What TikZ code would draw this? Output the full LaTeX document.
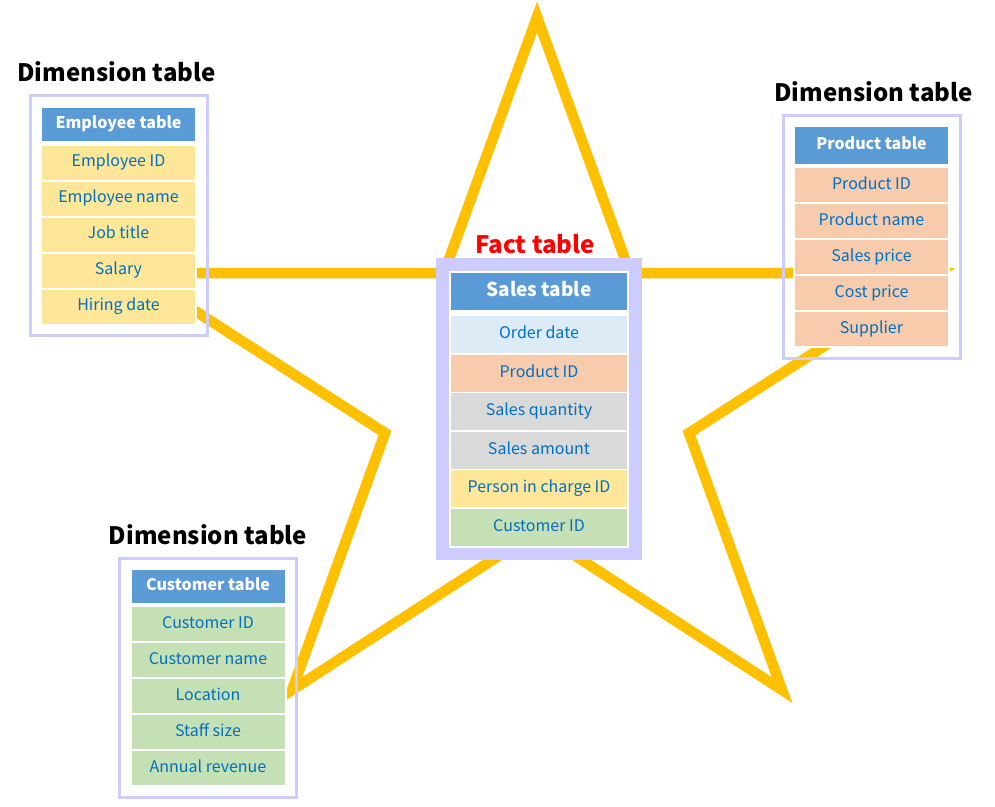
\documentclass[tikz,border=0pt]{standalone}
\usepackage{fontspec}
\setmainfont{Noto Sans CJK KR}
\usetikzlibrary{positioning,fit,backgrounds}
\definecolor{headblue}{HTML}{5B9BD5}
\definecolor{textblue}{HTML}{0070C0}
\definecolor{framelav}{HTML}{CCCCFF}
\definecolor{staryellow}{HTML}{FFC000}
\definecolor{empyellow}{HTML}{FFE699}
\definecolor{prodorange}{HTML}{F8CBAD}
\definecolor{custgreen}{HTML}{C5E0B4}
\definecolor{salesgray}{HTML}{D9D9D9}
\definecolor{orderblue}{HTML}{DDEBF7}
\tikzset{
    starline/.style = {draw=staryellow, line width=10.5pt, line join=miter},
    dimtitle/.style = {font=\fontsize{24}{28}\selectfont\bfseries, inner sep=0pt},
    dimhead/.style = {fill=headblue, draw=white, line width=2pt, outer sep=0pt, text=white,
        font=\fontsize{16}{18}\selectfont\bfseries, minimum width=155pt, minimum height=35pt,
        inner sep=0pt, text height=12pt, text depth=4pt},
    dimcell/.style = {draw=white, line width=2pt, outer sep=0pt, text=textblue,
        font=\fontsize{16}{18}\selectfont, minimum width=155pt, minimum height=36pt,
        inner sep=0pt, text height=12pt, text depth=4pt},
    dimframe/.style = {draw=framelav, line width=3pt, inner sep=11pt},
    facthead/.style = {fill=headblue, draw=white, line width=1.5pt, outer sep=0pt, text=white,
        font=\fontsize{19}{22}\selectfont\bfseries, minimum width=177.5pt, minimum height=38.5pt,
        inner sep=0pt, text height=14pt, text depth=5pt},
    factcell/.style = {draw=white, line width=1.5pt, outer sep=0pt, text=textblue,
        font=\fontsize{16}{18}\selectfont, minimum width=177.5pt, minimum height=38.5pt,
        inner sep=0pt, text height=12pt, text depth=4pt},
}
\begin{document}
\begin{tikzpicture}[x=1pt, y=-1pt]
    \useasboundingbox (0,0) rectangle (995,806);

    \node (emphead) [dimhead] at (118.5,124) {Employee table};
    \node (emp1) [dimcell, fill=empyellow, below = 3pt of emphead] {Employee ID};
    \node (emp2) [dimcell, fill=empyellow, below = 0pt of emp1] {Employee name};
    \node (emp3) [dimcell, fill=empyellow, below = 0pt of emp2] {Job title};
    \node (emp4) [dimcell, fill=empyellow, below = 0pt of emp3] {Salary};
    \node (emp5) [dimcell, fill=empyellow, below = 0pt of emp4] {Hiring date};
    \node (empframe) [dimframe, fit = (emphead) (emp5)] {};
    \node (emptitle) [dimtitle, above = 11.5pt of empframe, xshift=-2pt] {Dimension table};

    \node (prodhead) [dimhead, minimum height=39pt] at (871.5,145.5) {Product table};
    \node (prod1) [dimcell, fill=prodorange, below = 2pt of prodhead] {Product ID};
    \node (prod2) [dimcell, fill=prodorange, below = 0pt of prod1] {Product name};
    \node (prod3) [dimcell, fill=prodorange, below = 0pt of prod2] {Sales price};
    \node (prod4) [dimcell, fill=prodorange, below = 0pt of prod3] {Cost price};
    \node (prod5) [dimcell, fill=prodorange, below = 0pt of prod4] {Supplier};
    \node (prodframe) [dimframe, fit = (prodhead) (prod5)] {};
    \node (prodtitle) [dimtitle, above = 11.5pt of prodframe, xshift=2pt] {Dimension table};

    \node (custhead) [dimhead] at (208,586.5) {Customer table};
    \node (cust1) [dimcell, fill=custgreen, below = 2pt of custhead] {Customer ID};
    \node (cust2) [dimcell, fill=custgreen, below = 0pt of cust1] {Customer name};
    \node (cust3) [dimcell, fill=custgreen, below = 0pt of cust2] {Location};
    \node (cust4) [dimcell, fill=custgreen, below = 0pt of cust3] {Staff size};
    \node (cust5) [dimcell, fill=custgreen, below = 0pt of cust4] {Annual revenue};
    \node (custframe) [dimframe, fit = (custhead) (cust5)] {};
    \node (custtitle) [dimtitle, above = 11.5pt of custframe] {Dimension table};

    \node (saleshead) [facthead] at (539,291.5) {Sales table};
    \node (sales1) [factcell, fill=orderblue, below = 4.5pt of saleshead] {Order date};
    \node (sales2) [factcell, fill=prodorange, below = 0pt of sales1] {Product ID};
    \node (sales3) [factcell, fill=salesgray, below = 0pt of sales2] {Sales quantity};
    \node (sales4) [factcell, fill=salesgray, below = 0pt of sales3] {Sales amount};
    \node (sales5) [factcell, fill=empyellow, below = 0pt of sales4] {Person in charge ID};
    \node (sales6) [factcell, fill=custgreen, below = 0pt of sales5] {Customer ID};
    \node (salesinner) [fit = (saleshead) (sales6), inner sep=1.5pt] {};
    \node (salesframe) [fit = (salesinner), inner sep=12pt] {};
    \node (facttitle) [dimtitle, text=red, above = 4pt of salesframe, xshift=-4pt] {Fact table};

    \begin{scope}[on background layer]
        \draw [starline] (537,17) -- (630,273) -- (938,273) -- (689,433) -- (782,690)
            -- (537,531) -- (292,690) -- (385,433) -- (136,273) -- (444,273) -- cycle;
        \fill [framelav] (salesframe.north west) rectangle (salesframe.south east);
        \fill [white] (salesinner.north west) rectangle (salesinner.south east);
    \end{scope}
\end{tikzpicture}
\end{document}
